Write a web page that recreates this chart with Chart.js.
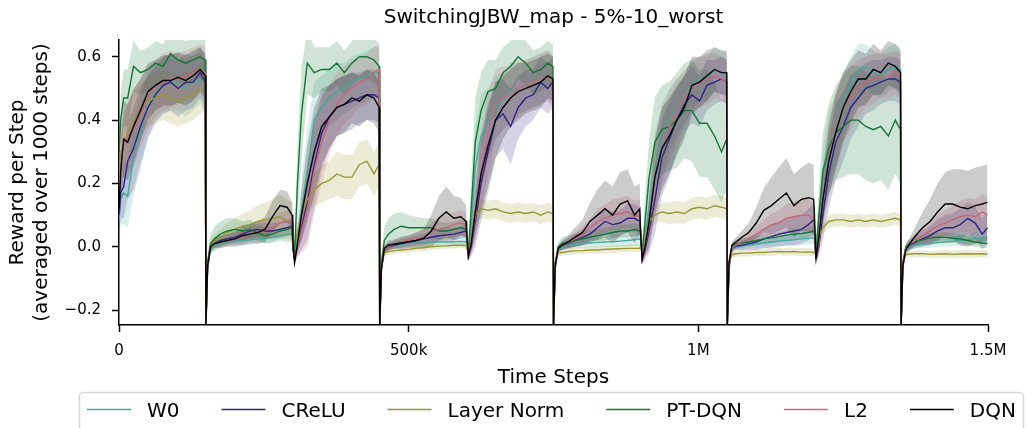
<!DOCTYPE html>
<html>
<head>
<meta charset="utf-8">
<title>SwitchingJBW_map - 5%-10_worst</title>
<script src="https://cdn.jsdelivr.net/npm/chart.js@4.4.1/dist/chart.umd.min.js"></script>
<style>
  html, body { margin: 0; padding: 0; background: #fff; }
  #chart { display: block; }
</style>
</head>
<body>
<canvas id="chart" width="1026" height="428"></canvas>
<script>
// sample positions inside every 150k-step task block (in thousands of steps)
const blockOffsets = [0, 3, 8, 15, 25, 37, 50, 63, 76, 89, 102, 115, 128, 140, 149];
const blockStarts = [0, 150, 300, 450, 600, 750, 900, 1050, 1200, 1350];

const xTickValues = [0, 500000, 1000000, 1500000];
const xTickLabels = ["0", "500k", "1M", "1.5M"];
const yTickValues = [-0.2, 0, 0.2, 0.4, 0.6];
const yTickLabels = ["\u22120.2", "0.0", "0.2", "0.4", "0.6"];

const seriesNames = ["W0", "CReLU", "Layer Norm", "PT-DQN", "L2", "DQN"];
const seriesColors = ["#44AA99", "#332288", "#999933", "#117733", "#CC6677", "#000000"];

// mean reward per step, one row per block
const w0 = [
  0.08, 0.15, 0.17, 0.16, 0.28, 0.36, 0.45, 0.49, 0.51, 0.52, 0.52, 0.5, 0.52, 0.53, 0.5,
  -0.25, -0.07, -0.01, 0.005, 0.01, 0.015, 0.018, 0.02, 0.022, 0.025, 0.027, 0.03, 0.035, 0.04, 0.04,
  0.0, -0.04, 0.03, 0.12, 0.23, 0.4, 0.44, 0.47, 0.49, 0.5, 0.52, 0.53, 0.54, 0.55, 0.55,
  -0.25, -0.07, -0.01, 0.0, 0.005, 0.008, 0.01, 0.012, 0.012, 0.014, 0.015, 0.015, 0.016, 0.017, 0.016,
  0.04, -0.03, 0.06, 0.25, 0.35, 0.39, 0.44, 0.46, 0.49, 0.5, 0.51, 0.52, 0.53, 0.54, 0.53,
  -0.25, -0.07, -0.01, 0.0, 0.005, 0.008, 0.01, 0.012, 0.013, 0.015, 0.016, 0.018, 0.02, 0.022, 0.025,
  0.03, -0.03, 0.04, 0.12, 0.24, 0.33, 0.4, 0.44, 0.47, 0.51, 0.53, 0.53, 0.56, 0.55, 0.54,
  -0.25, -0.07, -0.01, 0.0, 0.003, 0.006, 0.009, 0.012, 0.015, 0.018, 0.02, 0.022, 0.025, 0.027, 0.028,
  0.03, -0.03, 0.08, 0.21, 0.31, 0.37, 0.45, 0.51, 0.56, 0.57, 0.55, 0.54, 0.56, 0.57, 0.56,
  -0.25, -0.07, -0.01, 0.0, 0.005, 0.008, 0.01, 0.013, 0.015, 0.017, 0.02, 0.023, 0.026, 0.028, 0.03,
];
const crelu = [
  0.1, 0.17, 0.19, 0.27, 0.31, 0.38, 0.44, 0.48, 0.51, 0.52, 0.5, 0.52, 0.52, 0.55, 0.52,
  -0.25, -0.06, 0.0, 0.01, 0.02, 0.025, 0.03, 0.04, 0.05, 0.055, 0.05, 0.05, 0.055, 0.06, 0.065,
  0.01, -0.04, 0.0, 0.06, 0.14, 0.26, 0.36, 0.41, 0.44, 0.45, 0.46, 0.47, 0.48, 0.48, 0.47,
  -0.25, -0.07, -0.01, 0.0, 0.005, 0.01, 0.015, 0.02, 0.025, 0.03, 0.035, 0.037, 0.04, 0.045, 0.05,
  0.04, -0.03, 0.0, 0.08, 0.2, 0.3, 0.4, 0.42, 0.38, 0.44, 0.47, 0.48, 0.52, 0.5, 0.52,
  -0.25, -0.06, -0.005, 0.005, 0.01, 0.02, 0.03, 0.04, 0.06, 0.08, 0.07, 0.075, 0.09, 0.09, 0.08,
  0.05, -0.04, -0.01, 0.05, 0.15, 0.28, 0.34, 0.4, 0.45, 0.48, 0.46, 0.51, 0.52, 0.53, 0.52,
  -0.25, -0.06, -0.005, 0.002, 0.005, 0.01, 0.015, 0.025, 0.032, 0.04, 0.045, 0.05, 0.055, 0.07, 0.085,
  0.08, -0.04, 0.0, 0.1, 0.23, 0.33, 0.38, 0.44, 0.47, 0.5, 0.51, 0.52, 0.53, 0.53, 0.52,
  -0.25, -0.06, -0.005, 0.005, 0.015, 0.025, 0.035, 0.05, 0.06, 0.06, 0.07, 0.09, 0.075, 0.04, 0.06,
];
const layerNorm = [
  0.2, 0.3, 0.32, 0.36, 0.4, 0.43, 0.46, 0.47, 0.48, 0.47, 0.46, 0.47, 0.48, 0.5, 0.51,
  -0.22, -0.05, 0.01, 0.02, 0.03, 0.045, 0.055, 0.065, 0.07, 0.08, 0.085, 0.09, 0.095, 0.08, 0.08,
  0.04, 0.0, 0.05, 0.1, 0.15, 0.18, 0.2, 0.21, 0.23, 0.22, 0.22, 0.26, 0.27, 0.23, 0.26,
  -0.2, -0.06, -0.02, -0.015, -0.012, -0.01, -0.008, -0.005, -0.003, 0.0, 0.002, 0.003, 0.005, 0.005, 0.004,
  0.0, -0.02, 0.03, 0.1, 0.12, 0.115, 0.12, 0.11, 0.105, 0.11, 0.105, 0.11, 0.1, 0.11, 0.105,
  -0.2, -0.05, -0.02, -0.018, -0.015, -0.013, -0.012, -0.01, -0.01, -0.008, -0.007, -0.006, -0.005, -0.005, -0.005,
  0.0, -0.01, 0.03, 0.08, 0.1, 0.11, 0.105, 0.11, 0.105, 0.12, 0.125, 0.12, 0.13, 0.125, 0.12,
  -0.2, -0.05, -0.025, -0.022, -0.02, -0.02, -0.018, -0.018, -0.016, -0.015, -0.016, -0.015, -0.017, -0.016, -0.018,
  -0.02, 0.0, 0.03, 0.06, 0.08, 0.085, 0.085, 0.08, 0.085, 0.08, 0.085, 0.08, 0.085, 0.09, 0.085,
  -0.2, -0.05, -0.025, -0.023, -0.022, -0.022, -0.024, -0.023, -0.022, -0.024, -0.023, -0.022, -0.023, -0.022, -0.023,
];
const ptDqn = [
  0.3, 0.4, 0.47, 0.47, 0.57, 0.55, 0.56, 0.58, 0.57, 0.61, 0.59, 0.58, 0.59, 0.6, 0.59,
  -0.25, -0.05, 0.01, 0.025, 0.04, 0.05, 0.055, 0.05, 0.055, 0.045, 0.035, 0.04, 0.05, 0.055, 0.06,
  -0.01, -0.03, 0.2, 0.42, 0.58, 0.55, 0.56, 0.56, 0.58, 0.55, 0.58, 0.6, 0.6, 0.59, 0.57,
  -0.25, -0.05, 0.02, 0.04, 0.055, 0.065, 0.06, 0.06, 0.06, 0.06, 0.05, 0.05, 0.055, 0.06, 0.055,
  0.05, -0.02, 0.12, 0.33, 0.43, 0.49, 0.5, 0.55, 0.57, 0.6, 0.58, 0.55, 0.56, 0.58, 0.57,
  -0.25, -0.05, 0.0, 0.01, 0.015, 0.02, 0.025, 0.03, 0.035, 0.04, 0.045, 0.05, 0.05, 0.055, 0.05,
  0.05, -0.02, 0.08, 0.22, 0.33, 0.37, 0.38, 0.4, 0.43, 0.43, 0.39, 0.39, 0.35, 0.3, 0.34,
  -0.25, -0.05, 0.0, 0.008, 0.012, 0.015, 0.02, 0.025, 0.028, 0.032, 0.037, 0.04, 0.042, 0.045, 0.05,
  0.05, -0.02, 0.1, 0.24, 0.31, 0.36, 0.38, 0.4, 0.4, 0.38, 0.37, 0.38, 0.35, 0.4, 0.37,
  -0.25, -0.05, 0.0, 0.01, 0.018, 0.022, 0.028, 0.03, 0.03, 0.027, 0.025, 0.02, 0.015, 0.012, 0.01,
];
const l2 = [
  0.15, 0.26, 0.32, 0.35, 0.37, 0.42, 0.47, 0.5, 0.52, 0.53, 0.53, 0.54, 0.55, 0.56, 0.55,
  -0.25, -0.06, 0.0, 0.01, 0.015, 0.02, 0.025, 0.03, 0.04, 0.045, 0.053, 0.06, 0.075, 0.08, 0.08,
  0.02, -0.04, 0.0, 0.05, 0.12, 0.24, 0.33, 0.4, 0.45, 0.48, 0.5, 0.52, 0.53, 0.55, 0.56,
  -0.25, -0.07, -0.01, 0.0, 0.008, 0.015, 0.02, 0.025, 0.03, 0.045, 0.055, 0.06, 0.07, 0.075, 0.07,
  0.06, -0.03, 0.01, 0.1, 0.24, 0.36, 0.45, 0.47, 0.48, 0.5, 0.51, 0.52, 0.53, 0.54, 0.52,
  -0.25, -0.06, -0.005, 0.005, 0.012, 0.025, 0.04, 0.06, 0.08, 0.09, 0.1, 0.105, 0.11, 0.095, 0.1,
  0.07, -0.04, 0.0, 0.07, 0.22, 0.31, 0.38, 0.43, 0.47, 0.5, 0.52, 0.53, 0.54, 0.53, 0.52,
  -0.25, -0.06, -0.005, 0.005, 0.015, 0.025, 0.04, 0.055, 0.07, 0.075, 0.09, 0.095, 0.1, 0.1, 0.09,
  0.1, -0.04, 0.01, 0.17, 0.28, 0.37, 0.44, 0.47, 0.5, 0.52, 0.53, 0.54, 0.54, 0.55, 0.54,
  -0.25, -0.06, -0.005, 0.008, 0.02, 0.035, 0.05, 0.065, 0.075, 0.085, 0.095, 0.1, 0.095, 0.11, 0.1,
];
const dqn = [
  0.12, 0.24, 0.34, 0.33, 0.38, 0.43, 0.49, 0.51, 0.525, 0.525, 0.535, 0.525, 0.54, 0.56, 0.54,
  -0.25, -0.06, 0.0, 0.01, 0.015, 0.02, 0.025, 0.035, 0.04, 0.045, 0.055, 0.095, 0.13, 0.125, 0.1,
  0.02, -0.05, 0.01, 0.1, 0.2, 0.3, 0.38, 0.41, 0.44, 0.45, 0.47, 0.46, 0.48, 0.47, 0.44,
  -0.25, -0.07, -0.005, 0.005, 0.008, 0.012, 0.016, 0.02, 0.027, 0.05, 0.09, 0.11, 0.09, 0.095, 0.08,
  0.05, -0.03, 0.01, 0.11, 0.23, 0.32, 0.4, 0.44, 0.47, 0.49, 0.5, 0.51, 0.52, 0.54, 0.53,
  -0.25, -0.06, -0.005, 0.005, 0.015, 0.03, 0.045, 0.08, 0.1, 0.12, 0.1, 0.135, 0.145, 0.1, 0.12,
  0.06, -0.04, 0.0, 0.08, 0.22, 0.31, 0.35, 0.4, 0.44, 0.51, 0.52, 0.54, 0.56, 0.55, 0.55,
  -0.25, -0.05, 0.005, 0.015, 0.03, 0.045, 0.075, 0.115, 0.13, 0.15, 0.17, 0.13, 0.15, 0.155, 0.15,
  0.12, -0.04, 0.03, 0.15, 0.27, 0.36, 0.44, 0.49, 0.53, 0.53, 0.56, 0.55, 0.58, 0.57, 0.55,
  -0.25, -0.06, -0.01, 0.01, 0.035, 0.06, 0.08, 0.11, 0.135, 0.135, 0.125, 0.12, 0.13, 0.135, 0.14,
];

// half width of the shaded band at every sample, one row per block
const w0Band = [
  0.06, 0.08, 0.1, 0.1, 0.12, 0.12, 0.1, 0.09, 0.09, 0.09, 0.09, 0.09, 0.09, 0.08, 0.08,
  0.0, 0.01, 0.01, 0.01, 0.012, 0.012, 0.013, 0.014, 0.015, 0.015, 0.016, 0.017, 0.018, 0.02, 0.02,
  0.01, 0.015, 0.04, 0.1, 0.14, 0.12, 0.1, 0.09, 0.09, 0.08, 0.08, 0.08, 0.08, 0.08, 0.08,
  0.0, 0.01, 0.01, 0.01, 0.01, 0.012, 0.012, 0.013, 0.013, 0.014, 0.014, 0.015, 0.015, 0.016, 0.016,
  0.01, 0.015, 0.05, 0.12, 0.13, 0.11, 0.1, 0.09, 0.09, 0.08, 0.08, 0.08, 0.08, 0.08, 0.08,
  0.0, 0.01, 0.01, 0.01, 0.012, 0.012, 0.013, 0.014, 0.015, 0.016, 0.017, 0.018, 0.019, 0.02, 0.02,
  0.01, 0.015, 0.04, 0.09, 0.12, 0.12, 0.1, 0.09, 0.08, 0.08, 0.07, 0.07, 0.07, 0.07, 0.07,
  0.0, 0.01, 0.01, 0.01, 0.012, 0.012, 0.013, 0.014, 0.015, 0.016, 0.017, 0.018, 0.019, 0.02, 0.02,
  0.01, 0.015, 0.05, 0.1, 0.12, 0.11, 0.1, 0.09, 0.08, 0.07, 0.07, 0.07, 0.07, 0.07, 0.07,
  0.0, 0.01, 0.01, 0.01, 0.012, 0.012, 0.013, 0.014, 0.015, 0.016, 0.017, 0.018, 0.019, 0.02, 0.02,
];
const creluBand = [
  0.05, 0.08, 0.1, 0.12, 0.13, 0.12, 0.1, 0.09, 0.09, 0.09, 0.09, 0.09, 0.08, 0.08, 0.08,
  0.0, 0.01, 0.01, 0.012, 0.013, 0.015, 0.017, 0.02, 0.022, 0.025, 0.025, 0.025, 0.025, 0.025, 0.025,
  0.01, 0.015, 0.03, 0.07, 0.12, 0.14, 0.12, 0.1, 0.09, 0.09, 0.09, 0.08, 0.08, 0.08, 0.08,
  0.0, 0.01, 0.01, 0.012, 0.012, 0.013, 0.014, 0.015, 0.016, 0.018, 0.02, 0.02, 0.02, 0.02, 0.02,
  0.01, 0.015, 0.03, 0.08, 0.12, 0.13, 0.12, 0.11, 0.12, 0.1, 0.09, 0.08, 0.08, 0.08, 0.08,
  0.0, 0.01, 0.01, 0.012, 0.015, 0.02, 0.025, 0.03, 0.035, 0.04, 0.04, 0.04, 0.045, 0.045, 0.045,
  0.01, 0.015, 0.03, 0.07, 0.11, 0.12, 0.12, 0.1, 0.09, 0.09, 0.08, 0.08, 0.07, 0.07, 0.07,
  0.0, 0.01, 0.01, 0.012, 0.015, 0.02, 0.025, 0.03, 0.035, 0.04, 0.04, 0.045, 0.045, 0.05, 0.05,
  0.01, 0.015, 0.03, 0.08, 0.11, 0.12, 0.11, 0.1, 0.09, 0.08, 0.08, 0.07, 0.07, 0.07, 0.07,
  0.0, 0.01, 0.01, 0.015, 0.02, 0.025, 0.03, 0.035, 0.04, 0.045, 0.05, 0.05, 0.05, 0.05, 0.05,
];
const layerNormBand = [
  0.06, 0.08, 0.09, 0.09, 0.09, 0.08, 0.08, 0.08, 0.08, 0.08, 0.08, 0.08, 0.08, 0.08, 0.08,
  0.0, 0.01, 0.015, 0.02, 0.025, 0.03, 0.035, 0.04, 0.045, 0.05, 0.055, 0.06, 0.07, 0.07, 0.06,
  0.01, 0.015, 0.02, 0.03, 0.04, 0.05, 0.06, 0.06, 0.07, 0.07, 0.07, 0.07, 0.07, 0.07, 0.07,
  0.0, 0.008, 0.01, 0.01, 0.01, 0.01, 0.01, 0.01, 0.01, 0.01, 0.01, 0.01, 0.01, 0.01, 0.01,
  0.01, 0.015, 0.02, 0.025, 0.03, 0.03, 0.03, 0.03, 0.03, 0.03, 0.03, 0.03, 0.03, 0.03, 0.03,
  0.0, 0.008, 0.01, 0.01, 0.011, 0.011, 0.011, 0.012, 0.012, 0.012, 0.012, 0.012, 0.012, 0.012, 0.012,
  0.01, 0.012, 0.015, 0.02, 0.025, 0.03, 0.035, 0.035, 0.035, 0.035, 0.035, 0.035, 0.035, 0.035, 0.035,
  0.0, 0.008, 0.01, 0.01, 0.011, 0.011, 0.011, 0.012, 0.012, 0.012, 0.012, 0.012, 0.012, 0.012, 0.012,
  0.01, 0.012, 0.015, 0.02, 0.02, 0.02, 0.02, 0.02, 0.02, 0.02, 0.02, 0.02, 0.02, 0.02, 0.02,
  0.0, 0.008, 0.01, 0.01, 0.011, 0.011, 0.011, 0.012, 0.012, 0.012, 0.012, 0.012, 0.012, 0.012, 0.012,
];
const ptDqnBand = [
  0.05, 0.08, 0.09, 0.09, 0.08, 0.07, 0.07, 0.07, 0.07, 0.07, 0.07, 0.07, 0.07, 0.07, 0.07,
  0.0, 0.015, 0.03, 0.04, 0.04, 0.04, 0.035, 0.03, 0.03, 0.025, 0.025, 0.025, 0.025, 0.025, 0.025,
  0.01, 0.02, 0.12, 0.15, 0.1, 0.08, 0.07, 0.07, 0.07, 0.07, 0.07, 0.07, 0.07, 0.07, 0.07,
  0.0, 0.015, 0.04, 0.05, 0.05, 0.045, 0.04, 0.035, 0.03, 0.03, 0.03, 0.025, 0.025, 0.025, 0.025,
  0.01, 0.02, 0.1, 0.14, 0.12, 0.1, 0.09, 0.08, 0.08, 0.07, 0.07, 0.07, 0.07, 0.07, 0.07,
  0.0, 0.01, 0.015, 0.02, 0.02, 0.02, 0.02, 0.02, 0.02, 0.02, 0.02, 0.02, 0.02, 0.02, 0.02,
  0.01, 0.02, 0.08, 0.12, 0.14, 0.14, 0.14, 0.15, 0.15, 0.16, 0.17, 0.17, 0.17, 0.16, 0.16,
  0.0, 0.01, 0.012, 0.015, 0.015, 0.015, 0.015, 0.015, 0.015, 0.015, 0.015, 0.015, 0.015, 0.015, 0.015,
  0.01, 0.02, 0.08, 0.12, 0.14, 0.15, 0.16, 0.17, 0.17, 0.17, 0.17, 0.17, 0.17, 0.17, 0.17,
  0.0, 0.01, 0.012, 0.015, 0.015, 0.015, 0.015, 0.015, 0.015, 0.015, 0.015, 0.015, 0.015, 0.015, 0.015,
];
const l2Band = [
  0.05, 0.08, 0.1, 0.11, 0.12, 0.11, 0.1, 0.09, 0.09, 0.09, 0.08, 0.08, 0.08, 0.08, 0.08,
  0.0, 0.01, 0.01, 0.012, 0.014, 0.016, 0.018, 0.02, 0.022, 0.025, 0.03, 0.03, 0.035, 0.035, 0.035,
  0.01, 0.015, 0.03, 0.07, 0.12, 0.14, 0.13, 0.11, 0.1, 0.09, 0.09, 0.08, 0.08, 0.08, 0.08,
  0.0, 0.01, 0.01, 0.012, 0.013, 0.015, 0.018, 0.02, 0.025, 0.03, 0.035, 0.04, 0.04, 0.04, 0.04,
  0.01, 0.015, 0.03, 0.08, 0.12, 0.13, 0.11, 0.1, 0.09, 0.09, 0.08, 0.08, 0.08, 0.08, 0.08,
  0.0, 0.01, 0.01, 0.012, 0.015, 0.02, 0.025, 0.03, 0.04, 0.045, 0.05, 0.05, 0.05, 0.05, 0.05,
  0.01, 0.015, 0.03, 0.08, 0.12, 0.12, 0.11, 0.1, 0.09, 0.08, 0.08, 0.08, 0.07, 0.07, 0.07,
  0.0, 0.01, 0.01, 0.012, 0.015, 0.02, 0.025, 0.03, 0.035, 0.04, 0.045, 0.05, 0.05, 0.05, 0.05,
  0.01, 0.015, 0.03, 0.08, 0.11, 0.12, 0.11, 0.1, 0.09, 0.08, 0.08, 0.07, 0.07, 0.07, 0.07,
  0.0, 0.01, 0.01, 0.015, 0.02, 0.025, 0.03, 0.035, 0.04, 0.045, 0.05, 0.055, 0.055, 0.055, 0.055,
];
const dqnBand = [
  0.06, 0.1, 0.12, 0.12, 0.12, 0.1, 0.09, 0.08, 0.08, 0.08, 0.08, 0.08, 0.08, 0.07, 0.07,
  0.0, 0.01, 0.015, 0.015, 0.02, 0.02, 0.025, 0.03, 0.03, 0.035, 0.04, 0.05, 0.05, 0.05, 0.04,
  0.01, 0.015, 0.03, 0.08, 0.12, 0.14, 0.12, 0.1, 0.09, 0.09, 0.08, 0.08, 0.08, 0.08, 0.08,
  0.0, 0.01, 0.01, 0.015, 0.015, 0.02, 0.02, 0.025, 0.03, 0.05, 0.07, 0.08, 0.07, 0.06, 0.05,
  0.01, 0.015, 0.03, 0.08, 0.12, 0.13, 0.12, 0.1, 0.09, 0.09, 0.08, 0.08, 0.08, 0.07, 0.07,
  0.0, 0.01, 0.01, 0.015, 0.02, 0.03, 0.04, 0.06, 0.08, 0.09, 0.09, 0.1, 0.1, 0.09, 0.08,
  0.01, 0.015, 0.03, 0.08, 0.12, 0.13, 0.12, 0.11, 0.1, 0.09, 0.08, 0.08, 0.07, 0.07, 0.07,
  0.0, 0.01, 0.01, 0.015, 0.02, 0.03, 0.05, 0.07, 0.09, 0.1, 0.11, 0.1, 0.1, 0.11, 0.11,
  0.01, 0.015, 0.03, 0.08, 0.11, 0.12, 0.11, 0.1, 0.09, 0.08, 0.08, 0.07, 0.07, 0.07, 0.07,
  0.0, 0.01, 0.015, 0.02, 0.03, 0.05, 0.07, 0.09, 0.1, 0.11, 0.12, 0.12, 0.12, 0.12, 0.12,
];

const steps = blockStarts.flatMap((b) => blockOffsets.map((o) => (b + o) * 1000));
const means = [w0, crelu, layerNorm, ptDqn, l2, dqn];
const bands = [w0Band, creluBand, layerNormBand, ptDqnBand, l2Band, dqnBand];

const FONT = "'DejaVu Sans', 'Liberation Sans', sans-serif";

const rgba = (hex, a) => {
  const n = parseInt(hex.slice(1), 16);
  return `rgba(${(n >> 16) & 255}, ${(n >> 8) & 255}, ${n & 255}, ${a})`;
};

const bandEdge = (s, sign) =>
  means[s].map((v, i) => ({ x: steps[i], y: v + sign * bands[s][i] }));

// lines first (DQN on top), then the band pairs
const datasets = [];
for (let s = means.length - 1; s >= 0; s--) {
  datasets.push({
    label: seriesNames[s],
    data: means[s].map((y, i) => ({ x: steps[i], y })),
    borderColor: seriesColors[s],
    borderWidth: 1.4,
    pointRadius: 0,
    fill: false,
    order: 0,
  });
}
for (let s = means.length - 1; s >= 0; s--) {
  datasets.push({
    label: seriesNames[s] + " low",
    data: bandEdge(s, -1),
    borderWidth: 0,
    borderColor: "rgba(0,0,0,0)",
    pointRadius: 0,
    fill: false,
    order: 1,
  });
  datasets.push({
    label: seriesNames[s] + " high",
    data: bandEdge(s, 1),
    borderWidth: 0,
    borderColor: "rgba(0,0,0,0)",
    backgroundColor: rgba(seriesColors[s], 0.2),
    pointRadius: 0,
    fill: "-1",
    order: 1,
  });
}

// matplotlib-style legend frame under the axes
const legendBox = {
  id: "legendBox",
  afterDraw(chart) {
    const ctx = chart.ctx;
    ctx.save();
    ctx.beginPath();
    ctx.roundRect(79.5, 392.5, 944, 60, 4);
    ctx.fillStyle = "#ffffff";
    ctx.fill();
    ctx.strokeStyle = "#d6d6d6";
    ctx.lineWidth = 1.5;
    ctx.stroke();

    ctx.font = "20px " + FONT;
    ctx.textBaseline = "alphabetic";
    let x = 87;
    seriesNames.forEach((name, i) => {
      ctx.beginPath();
      ctx.moveTo(x, 409.5);
      ctx.lineTo(x + 44, 409.5);
      ctx.strokeStyle = seriesColors[i];
      ctx.lineWidth = 1.5;
      ctx.stroke();
      ctx.fillStyle = "#000";
      ctx.fillText(name, x + 60, 417);
      x += 60 + ctx.measureText(name).width + 42;
    });
    ctx.restore();
  },
};

new Chart(document.getElementById("chart"), {
  type: "line",
  data: { datasets },
  options: {
    responsive: false,
    animation: false,
    events: [],
    layout: { padding: { left: 0, right: 38, top: 0, bottom: 37 } },
    plugins: {
      legend: { display: false },
      tooltip: { enabled: false },
      title: {
        display: true,
        text: "SwitchingJBW_map - 5%-10_worst",
        color: "#000",
        font: { family: FONT, size: 20, weight: "normal" },
        padding: { top: 6, bottom: 10 },
        fullSize: false,
      },
    },
    scales: {
      x: {
        type: "linear",
        min: 0,
        max: 1500000,
        afterBuildTicks: (scale) => {
          scale.ticks = xTickValues.map((value) => ({ value }));
        },
        afterFit: (scale) => {
          scale.height = 66;
        },
        ticks: {
          autoSkip: false,
          maxRotation: 0,
          padding: 10,
          color: "#000",
          font: { family: FONT, size: 15 },
          callback: (value) => xTickLabels[xTickValues.indexOf(value)],
        },
        grid: {
          drawOnChartArea: false,
          drawTicks: true,
          tickLength: 7,
          tickColor: "#000",
          tickWidth: 1.5,
        },
        border: { display: true, color: "#000", width: 1.5 },
        title: {
          display: true,
          text: "Time Steps",
          color: "#000",
          font: { family: FONT, size: 20 },
          padding: { top: 0, bottom: 1 },
        },
      },
      y: {
        type: "linear",
        min: -0.247,
        max: 0.653,
        afterBuildTicks: (scale) => {
          scale.ticks = yTickValues.map((value) => ({ value }));
        },
        afterFit: (scale) => {
          scale.width = 119;
        },
        ticks: {
          padding: 11,
          color: "#000",
          font: { family: FONT, size: 15 },
          callback: (value) => yTickLabels[yTickValues.indexOf(value)],
        },
        grid: {
          drawOnChartArea: false,
          drawTicks: true,
          tickLength: 7,
          tickColor: "#000",
          tickWidth: 1.5,
        },
        border: { display: true, color: "#000", width: 1.5 },
        title: {
          display: true,
          text: ["Reward per Step", "(averaged over 1000 steps)"],
          color: "#000",
          font: { family: FONT, size: 20 },
          padding: { top: 6, bottom: 0 },
        },
      },
    },
  },
  plugins: [legendBox],
});
</script>
</body>
</html>
